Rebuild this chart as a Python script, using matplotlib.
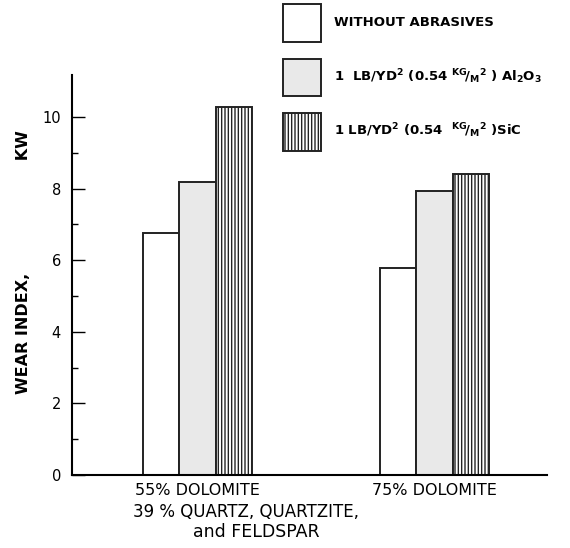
import numpy as np
import matplotlib
matplotlib.use("Agg")
import matplotlib.pyplot as plt

plt.rcParams["font.family"] = ["DejaVu Sans"]
plt.rcParams["mathtext.fontset"] = "custom"
plt.rcParams["mathtext.rm"] = "DejaVu Sans:bold"
plt.rcParams["mathtext.default"] = "rm"
plt.rcParams["hatch.linewidth"] = 1.0

# data
groups = ["55% DOLOMITE", "75% DOLOMITE"]
series = [
    "WITHOUT ABRASIVES",
    r"1  LB/YD$^2$ (0.54 $^{KG}\!/_{M}{}^2$ ) Al$_2$O$_3$",
    r"1 LB/YD$^2$ (0.54  $^{KG}\!/_{M}{}^2$ )SiC",
]
without_abrasives = [6.75, 5.78]
al2o3 = [8.18, 7.93]
sic = [10.28, 8.41]
yticks = [0, 2, 4, 6, 8, 10]

fig = plt.figure(figsize=(5.7, 5.48), dpi=100)
ax = fig.add_axes([72 / 570, 73 / 548, 475 / 570, 400 / 548])

x = np.arange(len(groups))
w = 0.154
edge = "#222222"
ax.bar(x - w, without_abrasives, w, color="white", edgecolor=edge,
       linewidth=1.4, label=series[0])
ax.bar(x, al2o3, w, color="#e9e9e9", edgecolor=edge,
       linewidth=1.4, label=series[1])
ax.bar(x + w, sic, w, color="white", edgecolor=edge, hatch="|||||",
       linewidth=1.4, label=series[2])

ax.set_xlim(-0.53, 1.475)
ax.set_ylim(0, 11.17)
ax.set_yticks(yticks)
ax.set_yticks(np.arange(1, 11, 2), minor=True)
ax.tick_params(axis="y", which="major", direction="in", length=9,
               width=1.0, labelsize=10.5, pad=8)
ax.tick_params(axis="y", which="minor", direction="in", length=4, width=1.0)
ax.set_xticks(x)
ax.set_xticklabels(groups, fontsize=11.5)
ax.tick_params(axis="x", length=0, pad=6)
for s in ["top", "right"]:
    ax.spines[s].set_visible(False)
ax.spines["left"].set_linewidth(1.5)
ax.spines["bottom"].set_linewidth(1.5)

ax.set_ylabel("WEAR INDEX," + " " * 20 + "KW", fontsize=11.5,
              fontweight="bold")
ax.yaxis.set_label_coords(-0.086, 0.532)

fig.text(133 / 570, 1 - 512 / 548, "39 % QUARTZ, QUARTZITE,", fontsize=12,
         ha="left", va="center")
fig.text(256 / 570, 1 - 532 / 548, "and FELDSPAR", fontsize=12.5,
         ha="center", va="center")

ax.legend(loc="upper left", bbox_to_anchor=(283 / 570, 1 - 4 / 548),
          bbox_transform=fig.transFigure, frameon=False,
          prop={"weight": "bold", "size": 9.5},
          handlelength=2.9, handleheight=4.0, labelspacing=1.3,
          handletextpad=1.0, borderpad=0, borderaxespad=0)

fig.savefig("out.png", dpi=100)
